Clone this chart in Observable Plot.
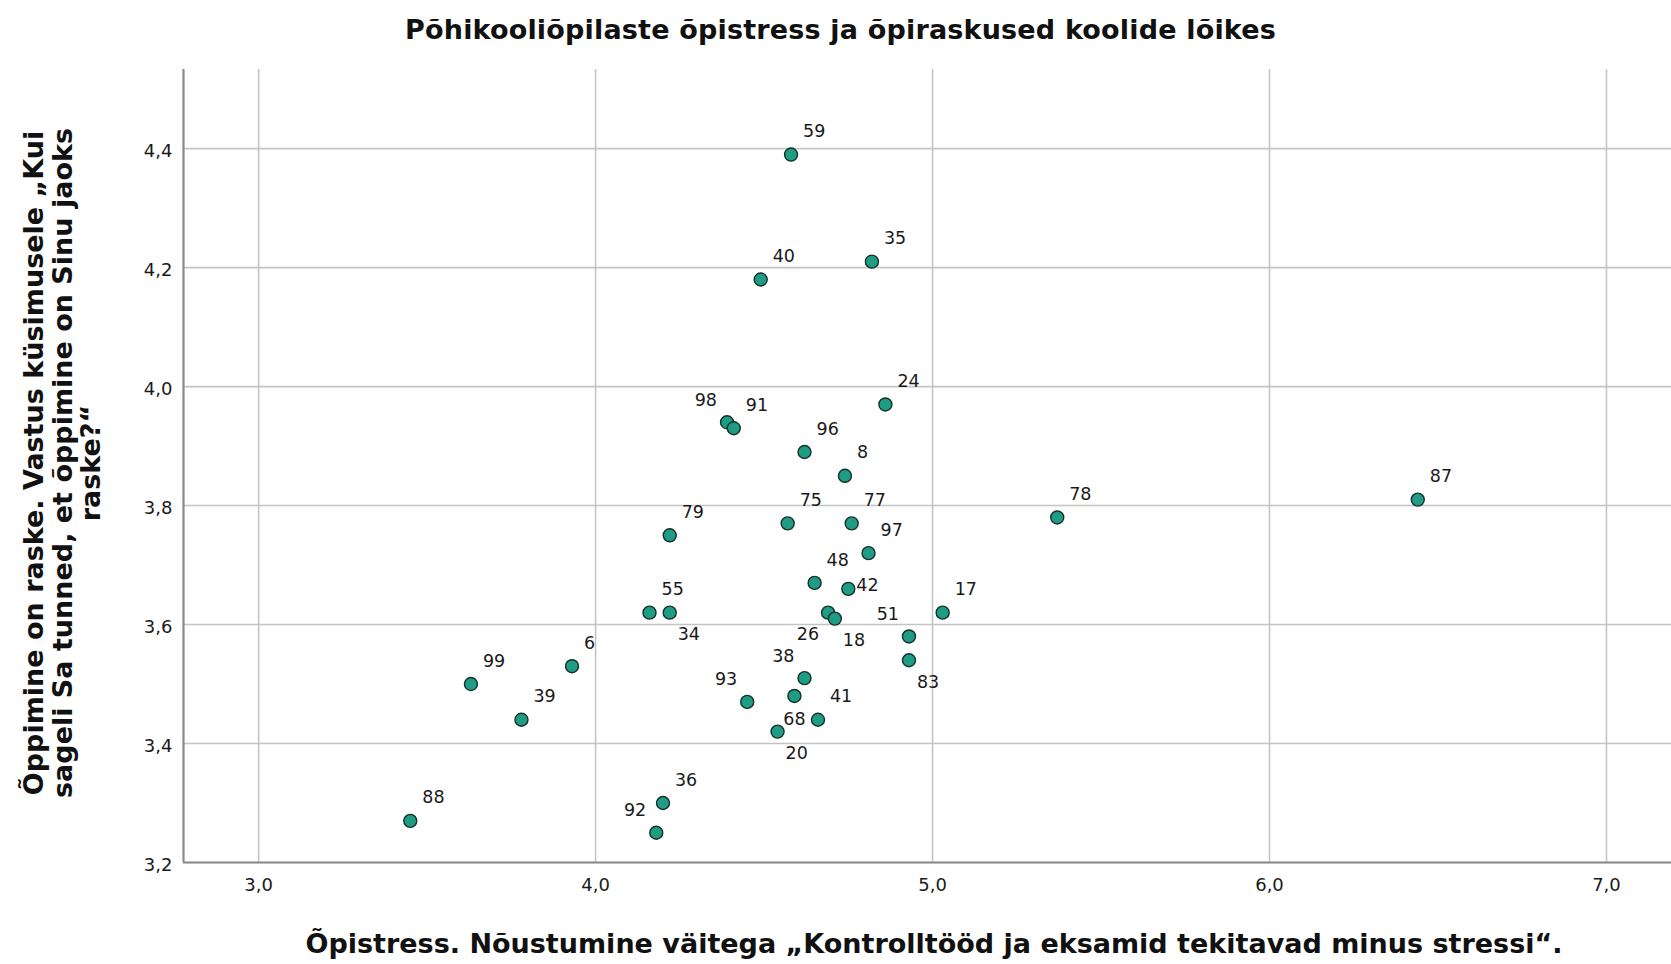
<!DOCTYPE html>
<html>
<head>
<meta charset="utf-8">
<script src="https://cdn.jsdelivr.net/npm/d3@7"></script>
<script src="https://cdn.jsdelivr.net/npm/@observablehq/plot@0.6"></script>
<style>
  html, body { margin: 0; padding: 0; background: #fff; }
  #chart { position: relative; width: 1671px; height: 964px; overflow: hidden; background: #fff; font-family: "DejaVu Sans", sans-serif; color: #111; }
  #title { position: absolute; left: 0; top: 0; width: 1681px; height: 60px; line-height: 60px; text-align: center; font-weight: bold; font-size: 27px; letter-spacing: 0.18px; }
  #xtitle { position: absolute; left: 190px; top: 915px; width: 1488px; height: 49px; line-height: 58px; text-align: center; font-weight: bold; font-size: 27px; white-space: nowrap; }
  #ytitle { position: absolute; width: 800px; left: -337px; top: 420px; text-align: center; font-weight: bold; font-size: 27px; line-height: 28.5px; transform: rotate(-90deg); transform-origin: 400px 43px; white-space: nowrap; }
  #plot { position: absolute; left: 0; top: 60px; }
</style>
</head>
<body>
<div id="chart">
  <div id="title">Põhikooliõpilaste õpistress ja õpiraskused koolide lõikes</div>
  <div id="plot"></div>
  <div id="ytitle">Õppimine on raske. Vastus küsimusele „Kui<br>sageli Sa tunned, et õppimine on Sinu jaoks<br>raske?“</div>
  <div id="xtitle">Õpistress. Nõustumine väitega „Kontrolltööd ja eksamid tekitavad minus stressi“.</div>
</div>
<script>
// ---- data ----
const schoolIds = [59, 35, 40, 24, 98, 91, 96, 8, 79, 75, 77, 97, 48, 42, 55, 34, 26, 18, 17, 51, 83, 38, 93, 68, 41, 20, 36, 92, 78, 87, 99, 6, 39, 88];
const stressValues = [4.58, 4.82, 4.49, 4.86, 4.39, 4.41, 4.62, 4.74, 4.22, 4.57, 4.76, 4.81, 4.65, 4.75, 4.16, 4.22, 4.69, 4.71, 5.03, 4.93, 4.93, 4.62, 4.45, 4.59, 4.66, 4.54, 4.20, 4.18, 5.37, 6.44, 3.63, 3.93, 3.78, 3.45];
const difficultyValues = [4.39, 4.21, 4.18, 3.97, 3.94, 3.93, 3.89, 3.85, 3.75, 3.77, 3.77, 3.72, 3.67, 3.66, 3.62, 3.62, 3.62, 3.61, 3.62, 3.58, 3.54, 3.51, 3.47, 3.48, 3.44, 3.42, 3.30, 3.25, 3.78, 3.81, 3.50, 3.53, 3.44, 3.27];
const labelSide = ["ur", "ur", "ur", "ur", "ul", "ur", "ur", "ur", "ur", "ur", "ur", "ur", "ur", "r", "ur", "br", "bl", "br", "ur", "ul", "br", "ul", "ul", "b", "ur", "br", "ur", "ul", "ur", "ur", "ur", "ur", "ur", "ur"];
const xTicks = [3.0, 4.0, 5.0, 6.0, 7.0];
const yTicks = [3.2, 3.4, 3.6, 3.8, 4.0, 4.2, 4.4];
const xDomain = [2.777, 7.193];
const yDomain = [3.2, 4.533];

// ---- build ----
const data = schoolIds.map((id, i) => ({id, x: stressValues[i], y: difficultyValues[i], side: labelSide[i]}));
const fmt = d => d.toFixed(1).replace(".", ",");

const placements = {
  ur: {textAnchor: "start", dx: 12, dy: -23},
  ul: {textAnchor: "end", dx: -10, dy: -22},
  br: {textAnchor: "start", dx: 8, dy: 22},
  bl: {textAnchor: "end", dx: -9, dy: 22},
  b:  {textAnchor: "middle", dx: 0, dy: 23},
  r:  {textAnchor: "start", dx: 8, dy: -3}
};

const labelMarks = Object.entries(placements).map(([side, opts]) =>
  Plot.text(data.filter(d => d.side === side), {x: "x", y: "y", text: d => String(d.id), fill: "#1a1a1a", fontSize: 17.5, ...opts})
);

const chart = Plot.plot({
  width: 1671,
  height: 855,
  marginLeft: 183,
  marginRight: 0,
  marginTop: 9,
  marginBottom: 53,
  style: {fontFamily: "DejaVu Sans, sans-serif", fontSize: "17px", color: "#1a1a1a", background: "transparent", overflow: "visible"},
  x: {domain: xDomain, type: "linear"},
  y: {domain: yDomain, type: "linear"},
  marks: [
    Plot.gridX(xTicks, {stroke: "#c4c4c4", strokeOpacity: 1, strokeWidth: 1.6}),
    Plot.gridY(yTicks, {stroke: "#c4c4c4", strokeOpacity: 1, strokeWidth: 1.6}),
    Plot.ruleX([xDomain[0]], {stroke: "#8a8a8a", strokeWidth: 2.2}),
    Plot.ruleY([yDomain[0]], {stroke: "#8a8a8a", strokeWidth: 2.2}),
    Plot.axisX(xTicks, {tickSize: 0, tickPadding: 16, tickFormat: fmt, label: null, fontSize: 18}),
    Plot.axisY(yTicks, {tickSize: 0, tickPadding: 11, tickFormat: fmt, label: null, fontSize: 18, dy: 3}),
    Plot.dot(data, {x: "x", y: "y", r: 6.5, fill: "#1f9c84", stroke: "#16302a", strokeWidth: 1.4}),
    ...labelMarks
  ]
});
document.getElementById("plot").appendChild(chart);
</script>
</body>
</html>
